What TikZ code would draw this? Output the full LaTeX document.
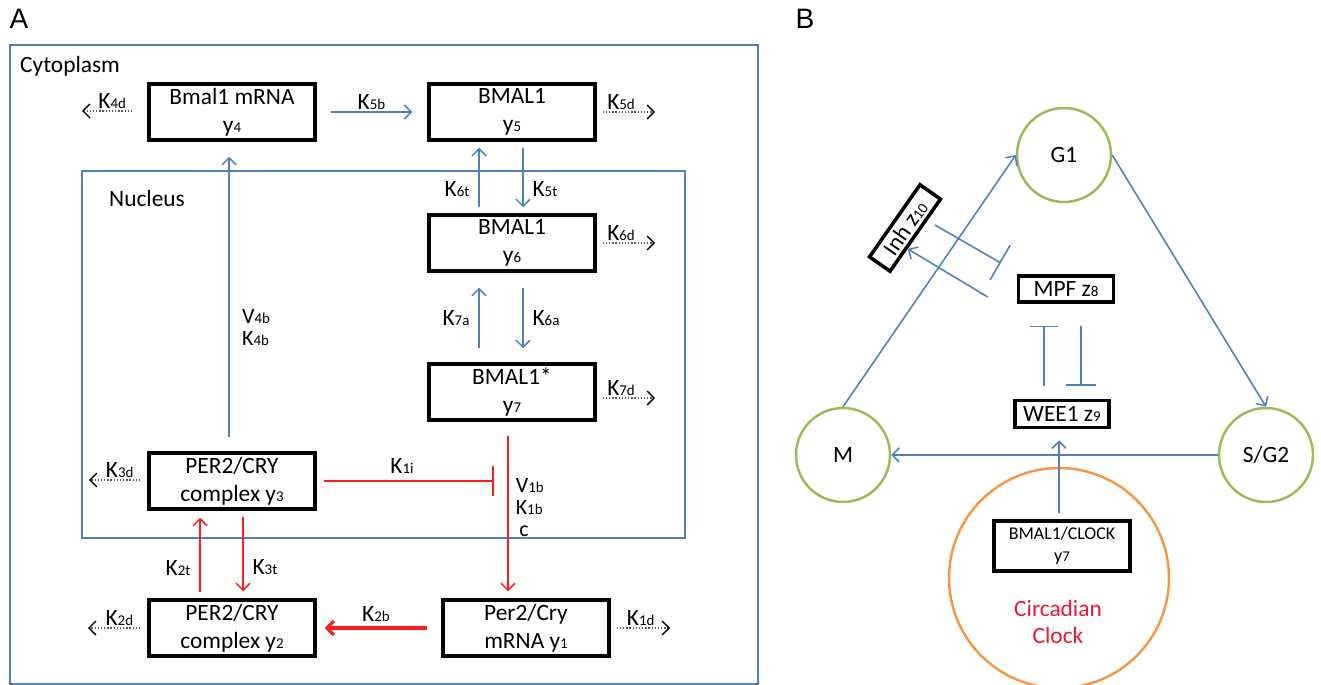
\documentclass[tikz,border=0pt]{standalone}
\usepackage{fontspec}
\setmainfont{Carlito}
\newfontfamily\panelfont{Liberation Sans}
\usetikzlibrary{arrows.meta,calc}
\definecolor{lineblue}{RGB}{79,129,189}
\definecolor{linered}{RGB}{250,30,30}
\definecolor{phasegreen}{RGB}{155,187,89}
\definecolor{clockorange}{RGB}{247,150,70}
\definecolor{clockred}{RGB}{240,20,50}
\newcommand{\smallsub}[1]{{\fontsize{8.5}{9}\selectfont #1}}

\begin{document}
\begin{tikzpicture}[x=0.02cm,y=-0.02cm,
    font=\fontsize{13.3}{16}\selectfont,
    box/.style={draw,line width=2pt,minimum width=3.32cm,minimum height=1.12cm,align=center,inner sep=2pt},
    region/.style={draw=lineblue,line width=0.6pt},
    rate/.style={inner sep=1pt,text=black},
    decay/.style={densely dotted,gray!70!black,line width=0.8pt,-{Straight Barb[black,length=1.4mm,width=2.8mm]}},
    barr/.style={lineblue,line width=0.9pt,-{Straight Barb[length=1.4mm,width=2.8mm]}},
    rarr/.style={linered,line width=0.9pt,-{Straight Barb[length=1.4mm,width=2.8mm]}},
    phase/.style={circle,draw=phasegreen,line width=1.4pt,minimum size=1.88cm,inner sep=0pt}]
  \useasboundingbox (0,0) rectangle (1321,685);

  % panel A
  \node[font=\panelfont\fontsize{16}{16}\selectfont] (pa) at (19,19) {A};
  \draw[region] (10,45) rectangle (758,684);
  \draw[region] (82,171) rectangle (685,538);
  \node[anchor=west] (cyto) at (14,66) {Cytoplasm};
  \node[anchor=west] (nuc) at (103,198) {Nucleus};

  \node[box] (y4) at (232,112) {Bmal1 mRNA\\y\smallsub{4}};
  \node[box] (y5) at (512,112) {BMAL1\\y\smallsub{5}};
  \node[box] (y6) at (512,243) {BMAL1\\y\smallsub{6}};
  \node[box] (y7) at (512,392) {BMAL1*\\y\smallsub{7}};
  \node[box] (y3) at (232,481) {PER2/CRY\\complex y\smallsub{3}};
  \node[box] (y2) at (232,628) {PER2/CRY\\complex y\smallsub{2}};
  \node[box] (y1) at (526,628) {Per2/Cry\\mRNA y\smallsub{1}};

  % degradation
  \coordinate (e4) at (82,111);
  \coordinate (e5) at (655,112);
  \coordinate (e6) at (655,243);
  \coordinate (e7) at (655,398);
  \coordinate (e3) at (89,480);
  \coordinate (e2) at (88,628);
  \coordinate (e1) at (670,628);
  \draw[decay] ([shift={(-15,-1)}]y4.west) -- (e4) node[rate,above,pos=0.4]{K\smallsub{4d}};
  \draw[decay] ([shift={(6,0)}]y5.east) -- (e5) node[rate,above,pos=0.35]{K\smallsub{5d}};
  \draw[decay] ([shift={(6,0)}]y6.east) -- (e6) node[rate,above,pos=0.35]{K\smallsub{6d}};
  \draw[decay] ([shift={(6,6)}]y7.east) -- (e7) node[rate,above,pos=0.35]{K\smallsub{7d}};
  \draw[decay] ([shift={(-7,-1)}]y3.west) -- (e3) node[rate,above,pos=0.4]{K\smallsub{3d}};
  \draw[decay] ([shift={(-7,0)}]y2.west) -- (e2) node[rate,above,pos=0.4]{K\smallsub{2d}};
  \draw[decay] ([shift={(6,0)}]y1.east) -- (e1) node[rate,above,pos=0.45]{K\smallsub{1d}};

  % BMAL1 branch
  \draw[barr] ([shift={(14,0)}]y4.east) -- ([shift={(-15,0)}]y5.west) node[rate,above,midway]{K\smallsub{5b}};
  \draw[barr] ([shift={(-33,-6)}]y6.north) -- ([shift={(-33,6)}]y5.south) node[rate,left=4pt,pos=0.3]{K\smallsub{6t}};
  \draw[barr] ([shift={(11,6)}]y5.south) -- ([shift={(11,-6)}]y6.north) node[rate,right=4pt,pos=0.7]{K\smallsub{5t}};
  \draw[barr] ([shift={(-33,-14)}]y7.north) -- ([shift={(-33,15)}]y6.south) node[rate,left=4pt,midway]{K\smallsub{7a}};
  \draw[barr] ([shift={(11,15)}]y6.south) -- ([shift={(11,-14)}]y7.north) node[rate,right=4pt,midway]{K\smallsub{6a}};
  \draw[barr] ([shift={(-3,-14)}]y3.north) -- ([shift={(-3,15)}]y4.south)
    node[rate,right=6pt,pos=0.39,align=left,font=\fontsize{12.5}{12.5}\selectfont]{V\smallsub{4b}\\K\smallsub{4b}};

  % PER2/CRY branch
  \coordinate (tx) at (494,481);
  \draw[linered,line width=0.9pt,-{Bar[width=0.6cm]}] ([shift={(7,0)}]y3.east) -- (tx) node[rate,above=3pt,pos=0.46]{K\smallsub{1i}};
  \draw[rarr] ([shift={(-4,14)}]y7.south) -- ([shift={(-18,-7)}]y1.north)
    node[rate,right=3pt,pos=0.46,align=left,font=\fontsize{12.5}{12.5}\selectfont]{V\smallsub{1b}\\K\smallsub{1b}\\\,c};
  \draw[rarr] ([shift={(-32,-6)}]y2.north) -- ([shift={(-32,7)}]y3.south) node[rate,left=4pt,pos=0.33]{K\smallsub{2t}};
  \draw[rarr] ([shift={(11,6)}]y3.south) -- ([shift={(11,-7)}]y2.north) node[rate,right=4pt,pos=0.67]{K\smallsub{3t}};
  \draw[rarr,line width=1.8pt] ([shift={(-14,0)}]y1.west) -- ([shift={(8,0)}]y2.east) node[rate,above=2pt,midway]{K\smallsub{2b}};

  % panel B
  \node[font=\panelfont\fontsize{16}{16}\selectfont] (pb) at (805,19) {B};
  \node[phase] (g1) at (1064,155) {G1};
  \node[phase] (m) at (843,455) {M};
  \node[phase] (sg2) at (1266,455) {S/G2};
  \draw[barr] (m.north) -- (g1.west);
  \draw[barr] (g1.east) -- (sg2.north);
  \draw[barr] (sg2.west) -- (m.east);

  \node[box,minimum width=1.9cm,minimum height=0.52cm] (mpf) at (1066,289) {MPF z\smallsub{8}};
  \node[box,minimum width=1.88cm,minimum height=0.54cm] (wee1) at (1062,414) {WEE1 z\smallsub{9}};
  \node[box,minimum width=1.76cm,minimum height=0.5cm,rotate=55] (inh) at (905,228) {Inh z\smallsub{10}};
  \draw[lineblue,line width=0.9pt,-{Bar[width=0.56cm]}] ([shift={(-18,-13)}]wee1.north) -- ([shift={(-22,22)}]mpf.south);
  \draw[lineblue,line width=0.9pt,-{Bar[width=0.6cm]}] ([shift={(15,22)}]mpf.south) -- ([shift={(19,-13)}]wee1.north);
  \draw[barr] ([shift={(-29,8)}]mpf.west) -- ($(inh.south west)!0.33!(inh.south east)$);
  \draw[lineblue,line width=0.9pt,-{Bar[width=0.8cm]}] ([shift={(30,-3)}]inh.center) -- ([shift={(-16,-26)}]mpf.west);

  \node[circle,draw=clockorange,line width=1.4pt,minimum size=4.4cm] (clock) at (1059,578) {};
  \node[box,minimum width=2.72cm,minimum height=1cm,font=\fontsize{10.2}{12.5}\selectfont] (clk) at (1062,546) {BMAL1/CLOCK\\y\smallsub{7}};
  \node[align=center,text=clockred,font=\fontsize{13.3}{15}\selectfont] (circ) at (1058,622) {Circadian\\Clock};
  \draw[barr] ([shift={(-3,-6)}]clk.north) -- ([shift={(-3,11)}]wee1.south);
\end{tikzpicture}
\end{document}
